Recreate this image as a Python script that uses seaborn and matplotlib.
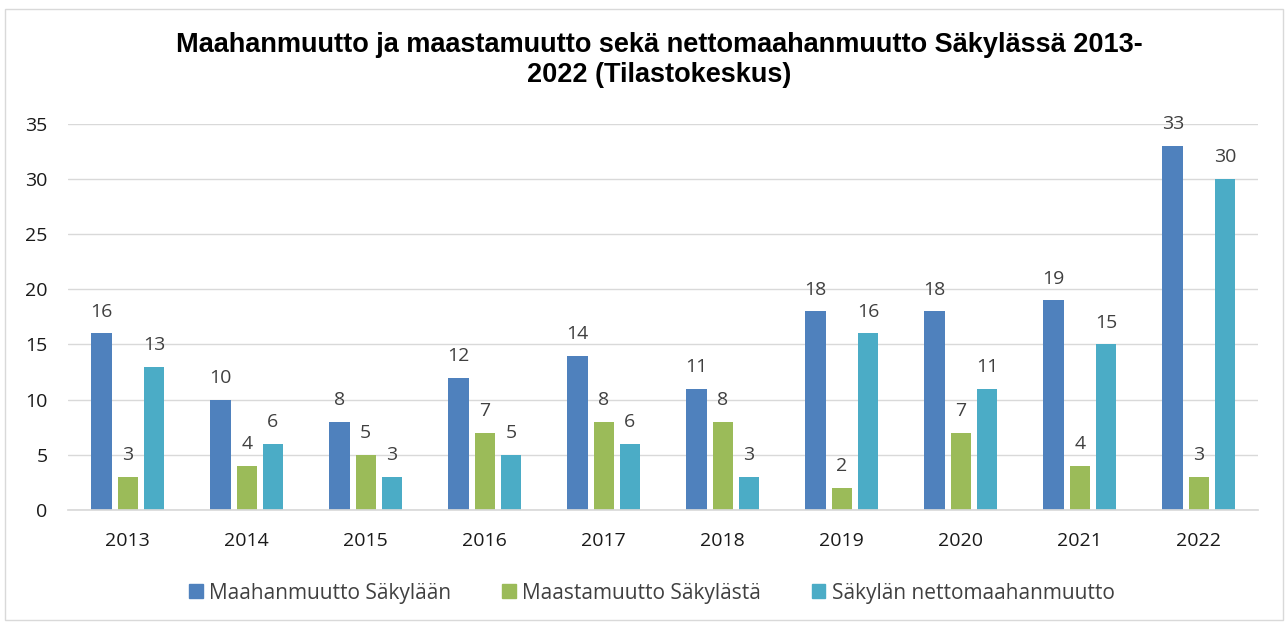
import pandas as pd
import matplotlib.pyplot as plt
import matplotlib.patches as mpatches
import seaborn as sns

# data
years = ["2013", "2014", "2015", "2016", "2017", "2018", "2019", "2020", "2021", "2022"]
series = ["Maahanmuutto Säkylään", "Maastamuutto Säkylästä", "Säkylän nettomaahanmuutto"]
immigration = [16, 10, 8, 12, 14, 11, 18, 18, 19, 33]
emigration = [3, 4, 5, 7, 8, 8, 2, 7, 4, 3]
net_immigration = [13, 6, 3, 5, 6, 3, 16, 11, 15, 30]
colors = ["#4F81BD", "#9BBB59", "#4BACC6"]

df = pd.DataFrame({
    "Vuosi": years * 3,
    "Sarja": [series[0]] * 10 + [series[1]] * 10 + [series[2]] * 10,
    "Arvo": immigration + emigration + net_immigration,
})

sns.set_theme(style="white")
plt.rcParams["font.family"] = ["Open Sans", "DejaVu Sans"]

fig = plt.figure(figsize=(12.88, 6.25), dpi=100)
ax = fig.add_axes([0.053, 0.184, 0.924, 0.618])

sns.barplot(data=df, x="Vuosi", y="Arvo", hue="Sarja", palette=colors,
            width=0.66, gap=0.22, ax=ax, legend=False, saturation=1, linewidth=0)

for cont in ax.containers:
    ax.bar_label(cont, fmt="%d", padding=9, fontsize=14, color="#404040")

ax.set_ylim(0, 35)
ax.set_yticks(range(0, 36, 5))
ax.set_xlim(-0.5, 9.5)
ax.set_xlabel("")
ax.set_ylabel("")
ax.yaxis.grid(True, color="#D9D9D9", linewidth=1)
ax.set_axisbelow(True)
for s in ["top", "right", "left"]:
    ax.spines[s].set_visible(False)
ax.spines["bottom"].set_color("#D9D9D9")
ax.tick_params(axis="both", length=0, labelsize=14, labelcolor="#1a1a1a")
ax.tick_params(axis="y", pad=15)
ax.tick_params(axis="x", pad=16)

fig.text(0.512, 0.904, "Maahanmuutto ja maastamuutto sekä nettomaahanmuutto Säkylässä 2013-\n2022 (Tilastokeskus)",
         ha="center", va="center", fontsize=19.5, fontweight="bold", color="black",
         family=["Liberation Sans", "DejaVu Sans"], linespacing=1.2)

handles = [mpatches.Patch(color=c, label=l) for c, l in zip(colors, series)]
fig.legend(handles=handles, loc="center", bbox_to_anchor=(0.506, 0.051), ncol=3,
           frameon=False, fontsize=15, handlelength=0.65, handleheight=0.65,
           handletextpad=0.3, columnspacing=2.45, labelcolor="#404040")

border = mpatches.Rectangle((0.004, 0.008), 0.992, 0.978, transform=fig.transFigure,
                            fill=False, edgecolor="#D9D9D9", linewidth=1)
fig.patches.append(border)

fig.savefig("out.png", dpi=100)
